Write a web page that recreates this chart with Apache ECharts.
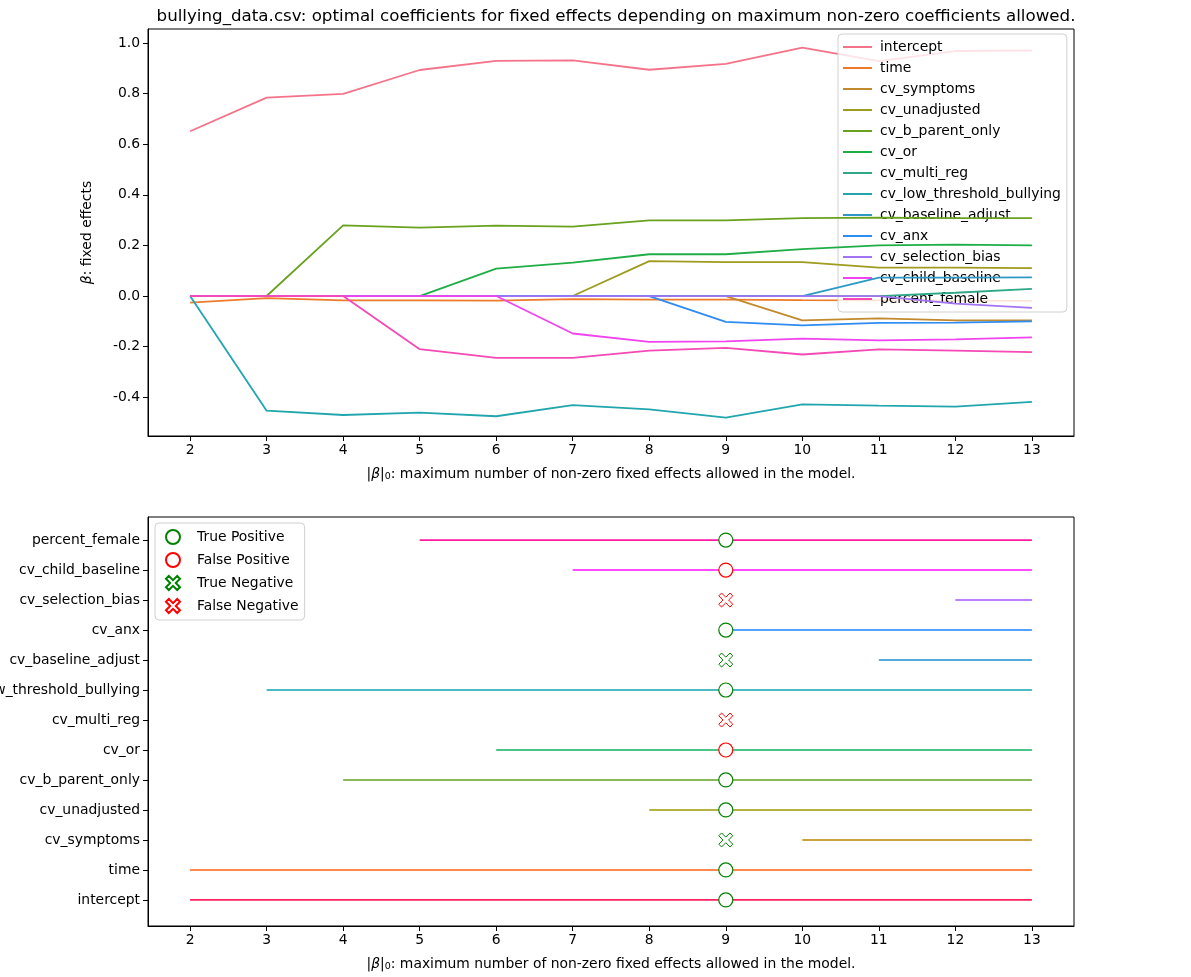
<!DOCTYPE html>
<html>
<head>
<meta charset="utf-8">
<script src="https://cdn.jsdelivr.net/npm/echarts@6/dist/echarts.min.js"></script>
<style>
html,body{margin:0;padding:0;background:#fff;}
#chart{width:1191px;height:977px;}
</style>
</head>
<body>
<div id="chart"></div>
<script>
// ---------- data ----------
const ks = [2, 3, 4, 5, 6, 7, 8, 9, 10, 11, 12, 13];
const xTicks = [2, 3, 4, 5, 6, 7, 8, 9, 10, 11, 12, 13];
const yTicksTop = [-0.4, -0.2, 0.0, 0.2, 0.4, 0.6, 0.8, 1.0];

const featureNames = ['intercept', 'time', 'cv_symptoms', 'cv_unadjusted', 'cv_b_parent_only', 'cv_or',
  'cv_multi_reg', 'cv_low_threshold_bullying', 'cv_baseline_adjust', 'cv_anx', 'cv_selection_bias',
  'cv_child_baseline', 'percent_female'];

const intercept = [0.651, 0.784, 0.799, 0.893, 0.929, 0.931, 0.894, 0.917, 0.981, 0.928, 0.968, 0.970];
const time = [-0.026, -0.008, -0.017, -0.017, -0.018, -0.012, -0.014, -0.014, -0.016, -0.017, -0.018, -0.019];
const cv_symptoms = [0, 0, 0, 0, 0, 0, 0, 0, -0.096, -0.088, -0.096, -0.096];
const cv_unadjusted = [0, 0, 0, 0, 0, 0, 0.138, 0.134, 0.134, 0.112, 0.112, 0.110];
const cv_b_parent_only = [0, 0, 0.279, 0.270, 0.278, 0.274, 0.299, 0.299, 0.308, 0.310, 0.308, 0.308];
const cv_or = [0, 0, 0, 0, 0.108, 0.132, 0.165, 0.165, 0.185, 0.200, 0.203, 0.200];
const cv_multi_reg = [0, 0, 0, 0, 0, 0, 0, 0, 0, 0, 0.013, 0.028];
const cv_low_threshold_bullying = [0, -0.453, -0.470, -0.461, -0.475, -0.431, -0.448, -0.480, -0.428, -0.433, -0.437, -0.418];
const cv_baseline_adjust = [0, 0, 0, 0, 0, 0, 0, 0, 0, 0.073, 0.073, 0.074];
const cv_anx = [0, 0, 0, 0, 0, 0, 0, -0.102, -0.116, -0.106, -0.105, -0.100];
const cv_selection_bias = [0, 0, 0, 0, 0, 0, 0, 0, 0, 0, -0.030, -0.047];
const cv_child_baseline = [0, 0, 0, 0, 0, -0.148, -0.181, -0.179, -0.168, -0.175, -0.171, -0.163];
const percent_female = [0, 0, 0, -0.210, -0.244, -0.244, -0.216, -0.205, -0.231, -0.211, -0.216, -0.222];

const coefValues = [intercept, time, cv_symptoms, cv_unadjusted, cv_b_parent_only, cv_or, cv_multi_reg,
  cv_low_threshold_bullying, cv_baseline_adjust, cv_anx, cv_selection_bias, cv_child_baseline, percent_female];

// first k at which each feature is selected (bottom panel), null = never
const startK = [2, 2, 10, 8, 4, 6, null, 3, 11, 9, 12, 7, 5];
const endK = 13;
const selectedK = 9;
const status = ['TP', 'TP', 'TN', 'TP', 'TP', 'FP', 'FN', 'TP', 'TN', 'TP', 'FN', 'FP', 'TP'];
const statusNames = { TP: 'True Positive', FP: 'False Positive', TN: 'True Negative', FN: 'False Negative' };

// ---------- styles ----------
const topColors = ['#f57389', '#ee7b2c', '#c18a2c', '#9e9b1f', '#68a21f', '#1fae45', '#2ea886',
  '#22a6ae', '#2c99c6', '#2f8cf2', '#a374f2', '#f044ee', '#f549b5'];
const botColors = ['#ff1f5f', '#ff6010', '#b88400', '#999a00', '#62a022', '#10b060', '#10a890',
  '#10a4b0', '#1a92d0', '#1e80ff', '#a356ff', '#ff10ff', '#ff1aa0'];
const xPath = 'path://M1,2.6L2.6,1L5,3.4L7.4,1L9,2.6L6.6,5L9,7.4L7.4,9L5,6.6L2.6,9L1,7.4L3.4,5Z';
const markerStyle = {
  TP: { symbol: 'circle', color: '#008000', bw: 1.2 },
  FP: { symbol: 'circle', color: '#ff0000', bw: 1.2 },
  TN: { symbol: xPath, color: '#008000', bw: 1.0 },
  FN: { symbol: xPath, color: '#ff0000', bw: 1.0 }
};

const FONT = 'DejaVu Sans';
const FS = 13.9;
const axisCommon = {
  axisLine: { show: true, onZero: false, lineStyle: { color: '#000', width: 1 } },
  axisTick: { show: true, inside: false, length: 5, lineStyle: { color: '#000' } },
  splitLine: { show: false },
  axisLabel: { color: '#000', fontFamily: FONT, fontSize: FS }
};
const xName = '|{it|β}|{sub|0}: maximum number of non-zero fixed effects allowed in the model.';
const nameRich = {
  it: { fontFamily: FONT, fontSize: FS, fontStyle: 'italic', color: '#000' },
  sub: { fontFamily: FONT, fontSize: 9.5, color: '#000', padding: [6, 0, 0, 0] }
};

function xAxisDef(gridIndex) {
  return {
    type: 'value', gridIndex: gridIndex, min: 1.45, max: 13.55,
    axisLine: axisCommon.axisLine,
    axisTick: Object.assign({}, axisCommon.axisTick, { customValues: xTicks }),
    axisLabel: Object.assign({}, axisCommon.axisLabel, { customValues: xTicks, margin: 7, formatter: v => String(v) }),
    splitLine: { show: false },
    name: xName, nameLocation: 'middle', nameGap: 30,
    nameTextStyle: { fontFamily: FONT, fontSize: FS, color: '#000', rich: nameRich }
  };
}

const series = [];
featureNames.forEach((name, i) => {
  series.push({
    name: name, type: 'line', xAxisIndex: 0, yAxisIndex: 0,
    data: ks.map((k, j) => [k, coefValues[i][j]]),
    symbol: 'none', lineStyle: { width: 1.8, color: topColors[i] }, itemStyle: { color: topColors[i] },
    emphasis: { disabled: true }, z: 2 + i
  });
});
featureNames.forEach((name, i) => {
  if (startK[i] === null) return;
  series.push({
    name: 'sel_' + name, type: 'line', xAxisIndex: 1, yAxisIndex: 1,
    data: [[startK[i], i], [endK, i]],
    symbol: 'none', lineStyle: { width: 1.6, color: botColors[i] },
    emphasis: { disabled: true }, z: 2
  });
});
['TP', 'FP', 'TN', 'FN'].forEach(s => {
  const st = markerStyle[s];
  series.push({
    name: statusNames[s], type: 'scatter', xAxisIndex: 1, yAxisIndex: 1,
    symbol: st.symbol, symbolSize: 14,
    itemStyle: { color: '#fff', borderColor: st.color, borderWidth: st.bw, opacity: 1 },
    data: featureNames.map((n, i) => i).filter(i => status[i] === s).map(i => [selectedK, i]),
    emphasis: { disabled: true }, z: 10
  });
});

const option = {
  animation: false,
  backgroundColor: '#fff',
  title: {
    text: 'bullying_data.csv: optimal coefficients for fixed effects depending on maximum non-zero coefficients allowed.',
    left: 611, top: 3, textAlign: 'center',
    textStyle: { fontFamily: FONT, fontSize: 16.7, fontWeight: 'normal', color: '#000' }
  },
  grid: [
    { left: 148, right: 117, top: 29, height: 407, show: true, borderColor: '#000', borderWidth: 1,
      backgroundColor: 'transparent', containLabel: false, outerBoundsMode: 'none' },
    { left: 148, right: 117, top: 517, height: 409, show: true, borderColor: '#000', borderWidth: 1,
      backgroundColor: 'transparent', containLabel: false, outerBoundsMode: 'none' }
  ],
  legend: [
    {
      data: featureNames, orient: 'vertical', left: 838, top: 34,
      padding: [6, 6, 6, 5], itemGap: 7, itemWidth: 29, itemHeight: 2, icon: 'rect',
      backgroundColor: 'rgba(255,255,255,0.8)', borderColor: '#d0d0d0', borderWidth: 1, borderRadius: 4,
      textStyle: { fontFamily: FONT, fontSize: FS, color: '#000', lineHeight: 14, padding: [0, 0, 0, 3] },
      selectedMode: false
    },
    {
      data: ['True Positive', 'False Positive', 'True Negative', 'False Negative'],
      orient: 'vertical', left: 155, top: 523,
      padding: [6, 6, 6, 10], itemGap: 7, itemWidth: 20, itemHeight: 14,
      backgroundColor: 'rgba(255,255,255,0.8)', borderColor: '#d0d0d0', borderWidth: 1, borderRadius: 4,
      textStyle: { fontFamily: FONT, fontSize: FS, color: '#000', lineHeight: 14, padding: [0, 0, 0, 9] },
      selectedMode: false
    }
  ],
  xAxis: [xAxisDef(0), xAxisDef(1)],
  yAxis: [
    {
      type: 'value', gridIndex: 0, min: -0.553, max: 1.055,
      axisLine: axisCommon.axisLine,
      axisTick: Object.assign({}, axisCommon.axisTick, { customValues: yTicksTop }),
      axisLabel: Object.assign({}, axisCommon.axisLabel, { customValues: yTicksTop, margin: 8, formatter: v => v.toFixed(1) }),
      splitLine: { show: false },
      name: '{it|β}: fixed effects', nameLocation: 'middle', nameGap: 54, nameRotate: 90,
      nameTextStyle: { fontFamily: FONT, fontSize: FS, color: '#000', rich: nameRich }
    },
    {
      type: 'value', gridIndex: 1, min: -0.87, max: 12.77,
      axisLine: axisCommon.axisLine,
      axisTick: Object.assign({}, axisCommon.axisTick, { customValues: featureNames.map((n, i) => i) }),
      axisLabel: Object.assign({}, axisCommon.axisLabel, {
        customValues: featureNames.map((n, i) => i), margin: 8,
        formatter: v => featureNames[Math.round(v)]
      }),
      splitLine: { show: false }
    }
  ],
  series: series
};

const chart = echarts.init(document.getElementById('chart'), null, { renderer: 'canvas' });
chart.setOption(option);
</script>
</body>
</html>
